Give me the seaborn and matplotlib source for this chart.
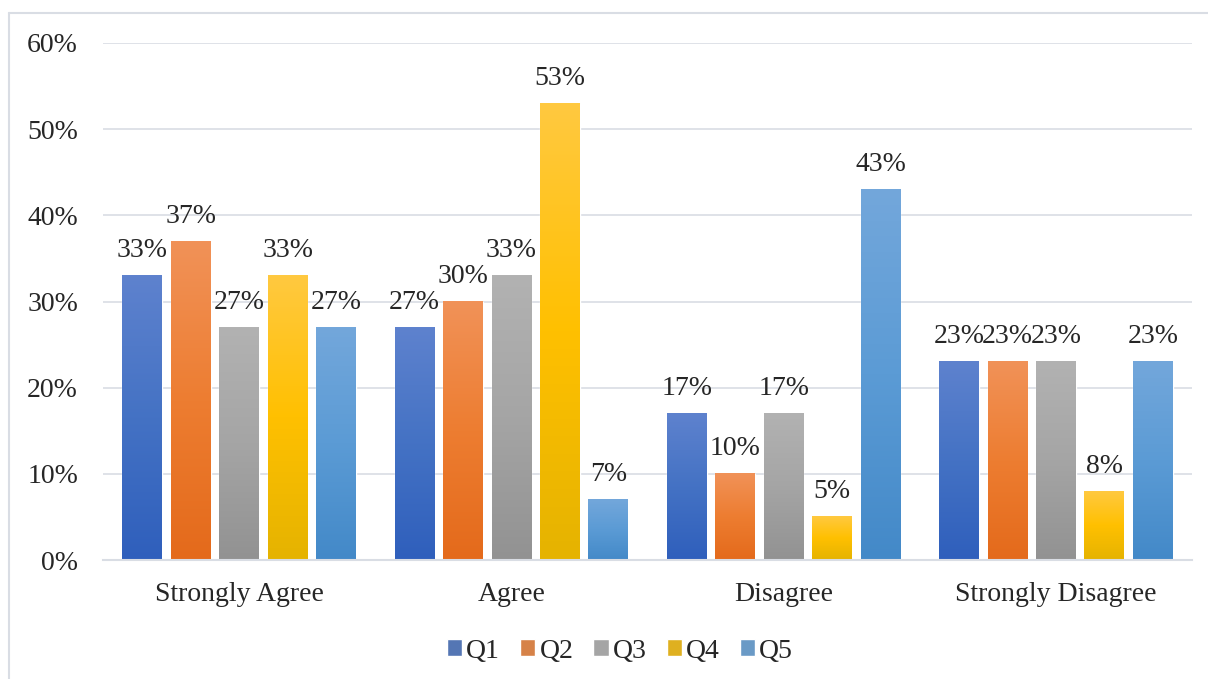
import numpy as np
import pandas as pd
import matplotlib
matplotlib.use("Agg")
import matplotlib.pyplot as plt
from matplotlib.lines import Line2D
from matplotlib.colors import to_rgb
import seaborn as sns

categories = ["Strongly Agree", "Agree", "Disagree", "Strongly Disagree"]
questions = ["Q1", "Q2", "Q3", "Q4", "Q5"]
q1 = [33, 27, 17, 23]
q2 = [37, 30, 10, 23]
q3 = [27, 33, 17, 23]
q4 = [33, 53, 5, 8]
q5 = [27, 7, 43, 23]
y_ticks = [0, 10, 20, 30, 40, 50, 60]

base_colors = ["#4472C4", "#ED7D31", "#A5A5A5", "#FFC000", "#5B9BD5"]
top_colors = ["#5E82CE", "#F19258", "#B2B2B2", "#FFC940", "#73A7DB"]
bottom_colors = ["#2F5FBC", "#E46A1B", "#929292", "#E5B300", "#4389C8"]

rows = []
for q, vals in zip(questions, [q1, q2, q3, q4, q5]):
    for c, v in zip(categories, vals):
        rows.append({"category": c, "question": q, "value": v})
df = pd.DataFrame(rows)

sns.set_style("white")
plt.rcParams["font.family"] = ["Liberation Serif", "DejaVu Serif"]

fig = plt.figure(figsize=(12.08, 6.79), dpi=100)
W, H = 1208, 679
ax = fig.add_axes([103 / W, 1 - 560 / H, (1192 - 103) / W, (560 - 43) / H])

sns.barplot(data=df, x="category", y="value", hue="question",
            palette=base_colors, order=categories, hue_order=questions,
            width=0.89, gap=0.18, ax=ax, errorbar=None, legend=True)

# gradient fill on each bar, light at top, dark at bottom
for i, cont in enumerate(ax.containers):
    top = np.array(to_rgb(top_colors[i]))
    mid = np.array(to_rgb(base_colors[i]))
    bot = np.array(to_rgb(bottom_colors[i]))
    t = np.linspace(0, 1, 200)[:, None]
    grad = np.where(t < 0.5, top + (mid - top) * (t / 0.5),
                    mid + (bot - mid) * ((t - 0.5) / 0.5))
    img = grad[:, None, :]
    for bar in cont:
        x0, y0 = bar.get_x(), bar.get_y()
        w, h = bar.get_width(), bar.get_height()
        ax.imshow(img, extent=[x0, x0 + w, y0, y0 + h], aspect="auto",
                  origin="upper", zorder=bar.get_zorder() + 0.1)
    ax.bar_label(cont, labels=[f"{int(b.get_height())}%" for b in cont],
                 padding=9, fontsize=20)

ax.set_xlim(-0.5, 3.5)
ax.set_ylim(0, 60)
ax.set_yticks(y_ticks)
ax.set_yticklabels([f"{v}%" for v in y_ticks])
ax.set_xlabel("")
ax.set_ylabel("")
ax.grid(axis="y", color="#D9DDE4", linewidth=1.2)
ax.set_axisbelow(True)
for s in ["top", "right", "left"]:
    ax.spines[s].set_visible(False)
ax.spines["bottom"].set_color("#D9DDE4")
ax.spines["bottom"].set_linewidth(1.5)
ax.tick_params(axis="y", length=0, pad=18, labelsize=20)
ax.tick_params(axis="x", length=0, pad=16, labelsize=20)

handles, labels = ax.get_legend_handles_labels()
ax.legend_.remove()
fig.legend(handles, labels, loc="center", bbox_to_anchor=(620 / W, 1 - 651 / H),
           ncol=5, frameon=False, fontsize=20, handlelength=0.55,
           handleheight=0.55, handletextpad=0.15, columnspacing=0.72)

# outer chart border
fig.add_artist(Line2D([9 / W, 1], [1 - 13 / H, 1 - 13 / H], color="#D9DDE4",
                      linewidth=1.5, transform=fig.transFigure))
fig.add_artist(Line2D([9 / W, 9 / W], [0, 1 - 13 / H], color="#D9DDE4",
                      linewidth=1.5, transform=fig.transFigure))

fig.savefig("out.png", dpi=100)
